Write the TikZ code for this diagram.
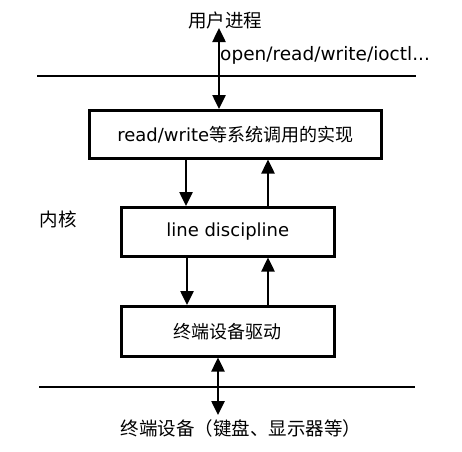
\documentclass[tikz,border=0pt]{standalone}
\usepackage{fontspec}
\setmainfont{DejaVu Sans}
\newfontfamily\cjk{Noto Sans CJK SC}
\usetikzlibrary{arrows.meta}
\begin{document}
\begin{tikzpicture}[x=1pt,y=-1pt,
  box/.style={draw,line width=2.5pt,inner sep=0pt,anchor=north west,font=\fontsize{18}{20}\selectfont},
  lbl/.style={inner sep=0pt,font=\fontsize{18.5}{20}\selectfont},
  flow/.style={line width=2.5pt,-{Triangle[width=13pt,length=14pt]}},
  both/.style={line width=2.5pt,{Triangle[width=13pt,length=14pt]}-{Triangle[width=13pt,length=14pt]}},
  sep/.style={line width=2.5pt}]
\useasboundingbox (0,0) rectangle (462,451);
\node[box,minimum width=292pt,minimum height=48pt] (b1) at (88,109) {read/write{\cjk 等系统调用的实现}};
\node[box,minimum width=213pt,minimum height=49pt] (b2) at (120,206) {line discipline};
\node[box,minimum width=213pt,minimum height=50pt] (b3) at (120,305) {\cjk 终端设备驱动};
\node[lbl] (user) at (225,20) {\cjk 用户进程};
\node[lbl,anchor=west] (calls) at (220,55) {open/read/write/ioctl...};
\node[lbl] (kernel) at (58,219) {\cjk 内核};
\node[lbl] (dev) at (241,428) {\cjk 终端设备（键盘、显示器等）};
\coordinate (l1a) at (37,76); \coordinate (l1b) at (416,76);
\coordinate (l2a) at (39,387); \coordinate (l2b) at (415,387);
\draw[sep] (l1a) -- (l1b);
\draw[sep] (l2a) -- (l2b);
\coordinate (utop) at (219,28);
\draw[both] (utop) -- (utop |- b1.north);
\draw[flow] (b1.south -| 186,0) -- (b2.north -| 186,0);
\draw[flow] (b2.north -| 268,0) -- (b1.south -| 268,0);
\draw[flow] (b2.south -| 187,0) -- (b3.north -| 187,0);
\draw[flow] (b3.north -| 268,0) -- (b2.south -| 268,0);
\coordinate (dbot) at (218,415);
\draw[both] (b3.south -| dbot) -- (dbot);
\end{tikzpicture}
\end{document}
